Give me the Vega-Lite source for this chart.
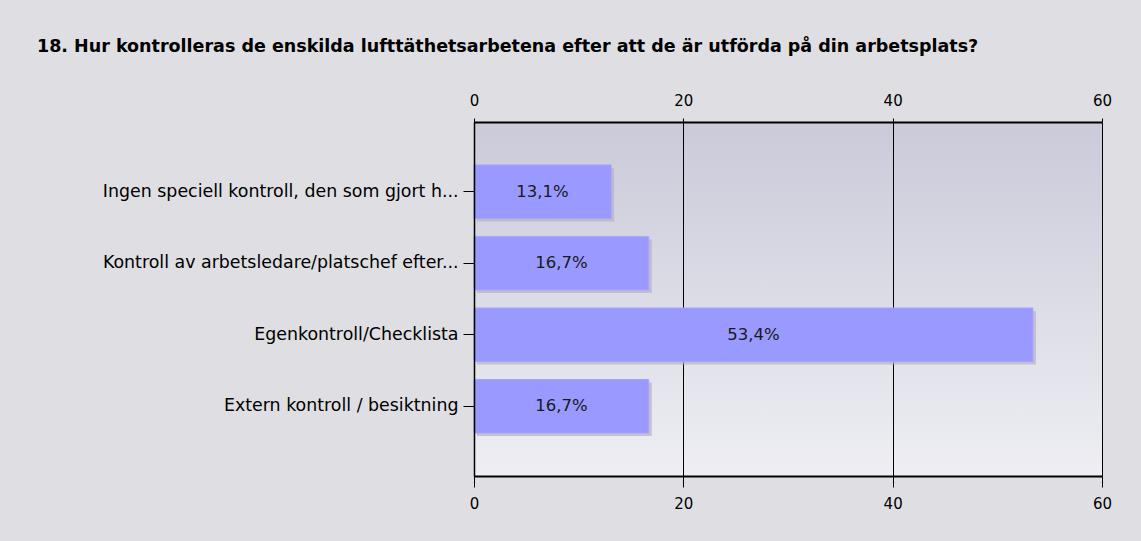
{
  "$schema": "https://vega.github.io/schema/vega-lite/v6.json",
  "autosize": "none",
  "width": 628,
  "height": 354,
  "padding": {"left": 474, "top": 122, "right": 39, "bottom": 65},
  "background": "#dfdfe3",
  "view": {
    "stroke": null,
    "fill": {
      "gradient": "linear",
      "x1": 0, "y1": 0, "x2": 0, "y2": 1,
      "stops": [
        {"offset": 0, "color": "#cacad9"},
        {"offset": 1, "color": "#eeeef4"}
      ]
    }
  },
  "title": {
    "text": "18. Hur kontrolleras de enskilda lufttäthetsarbetena efter att de är utförda på din arbetsplats?",
    "anchor": "start",
    "frame": "group",
    "dx": -437,
    "offset": 38,
    "font": "DejaVu Sans",
    "fontSize": 17.5,
    "fontWeight": "bold",
    "color": "#000000"
  },
  "datasets": {
    "rows": [
      {"svar": "Ingen speciell kontroll, den som gjort h...", "procent": 13.1, "etikett": "13,1%"},
      {"svar": "Kontroll av arbetsledare/platschef efter...", "procent": 16.7, "etikett": "16,7%"},
      {"svar": "Egenkontroll/Checklista", "procent": 53.4, "etikett": "53,4%"},
      {"svar": "Extern kontroll / besiktning", "procent": 16.7, "etikett": "16,7%"}
    ]
  },
  "data": {"name": "rows"},
  "resolve": {"scale": {"x": "independent"}, "axis": {"x": "independent"}},
  "layer": [
    {
      "mark": {"type": "bar", "color": "#b4b4c0", "opacity": 0.7, "xOffset": 3, "yOffset": 3},
      "encoding": {
        "y": {
          "field": "svar", "type": "nominal", "sort": null,
          "scale": {"paddingInner": 0.25, "paddingOuter": 0.6},
          "axis": {
            "title": null,
            "domainColor": "#000000",
            "domainWidth": 1.5,
            "tickColor": "#000000",
            "tickSize": 11,
            "labelPadding": 5,
            "labelFont": "DejaVu Sans",
            "labelFontSize": 17.4,
            "labelColor": "#000000",
            "labelLimit": 460,
            "zindex": 1
          }
        },
        "x": {
          "field": "procent", "type": "quantitative",
          "scale": {"domain": [0, 60], "nice": false},
          "axis": {
            "orient": "top",
            "values": [0, 20, 40, 60],
            "title": null,
            "grid": true,
            "gridColor": "#000000",
            "gridOpacity": 1,
            "gridWidth": 1,
            "domainColor": "#000000",
            "domainWidth": 2,
            "tickColor": "#000000",
            "tickSize": 4,
            "labelPadding": 10,
            "labelFont": "DejaVu Sans",
            "labelFontSize": 15,
            "labelColor": "#000000",
            "labelFlush": false,
            "zindex": 0
          }
        }
      }
    },
    {
      "mark": {"type": "bar", "color": "#9999ff", "stroke": "#a6a6ff", "strokeWidth": 1},
      "encoding": {
        "y": {"field": "svar", "type": "nominal", "sort": null},
        "x": {
          "field": "procent", "type": "quantitative",
          "scale": {"domain": [0, 60], "nice": false},
          "axis": {
            "orient": "bottom",
            "values": [0, 20, 40, 60],
            "title": null,
            "grid": false,
            "domainColor": "#000000",
            "domainWidth": 2,
            "tickColor": "#000000",
            "tickSize": 11,
            "labelPadding": 9,
            "labelFont": "DejaVu Sans",
            "labelFontSize": 15,
            "labelColor": "#000000",
            "labelFlush": false,
            "zindex": 1
          }
        }
      }
    },
    {
      "mark": {"type": "text", "font": "DejaVu Sans", "fontSize": 16.5, "color": "#1a1a1a", "baseline": "middle", "align": "center"},
      "encoding": {
        "y": {"field": "svar", "type": "nominal", "sort": null},
        "x": {
          "field": "procent", "type": "quantitative",
          "scale": {"domain": [0, 120], "nice": false},
          "axis": null
        },
        "text": {"field": "etikett"}
      }
    }
  ]
}
